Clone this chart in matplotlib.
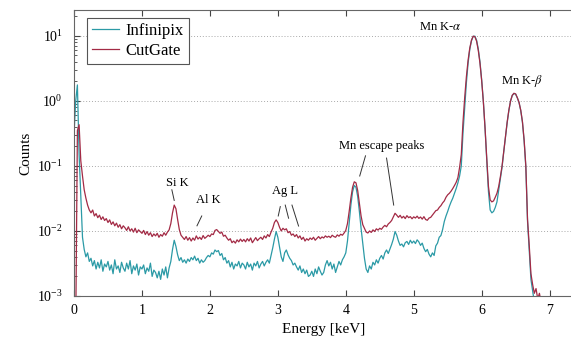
import numpy as np
import matplotlib
matplotlib.use("Agg")
from matplotlib import pyplot as plt
from matplotlib.ticker import LogLocator, NullFormatter

plt.rcParams['font.family'] = ['Liberation Serif', 'DejaVu Serif']
plt.rcParams['mathtext.fontset'] = 'stix'

# spectra, in units of 1e-3 counts, one value per 0.025 keV channel
channel_width = 0.025

infinipix_milli = [
    300, 1000, 1760, 150, 35, 8.0, 5.2, 4.0, 4.6, 3.4,
    3.8, 2.9, 3.5, 2.6, 3.3, 2.7, 3.6, 2.4, 3.1, 2.8,
    3.4, 2.5, 3.0, 2.2, 3.6, 2.6, 2.9, 2.3, 3.3, 2.7,
    2.4, 3.2, 2.6, 3.5, 2.2, 2.9, 2.5, 3.1, 2.1, 2.8,
    2.6, 3.0, 2.2, 2.7, 2.4, 3.2, 2.0, 2.5, 2.3, 1.9,
    2.4, 1.8, 2.6, 2.1, 2.8, 1.9, 2.7, 3.4, 5.2, 7.2,
    5.8, 4.3, 3.5, 3.9, 3.3, 3.6, 3.2, 3.7, 3.4, 3.9,
    3.6, 4.1, 3.5, 3.8, 3.2, 3.6, 3.3, 3.5, 3.9, 4.2,
    4.0, 4.6, 4.4, 5.1, 4.8, 5.0, 4.2, 4.5, 3.6, 3.9,
    3.2, 3.5, 2.8, 3.3, 2.6, 3.1, 2.9, 3.4, 2.7, 3.2,
    3.0, 2.6, 3.3, 2.8, 3.1, 2.5, 3.2, 2.9, 3.4, 2.7,
    3.1, 3.4, 2.9, 3.3, 3.6, 3.2, 4.2, 5.5, 7.5, 9.8,
    8.0, 5.6, 4.0, 3.4, 4.6, 5.1, 4.3, 3.8, 3.5, 3.0,
    3.2, 2.8, 2.5, 2.9, 2.3, 2.6, 2.2, 2.5, 2.0, 2.1,
    2.4, 2.0, 2.6, 2.2, 2.8, 2.4, 2.1, 2.3, 3.0, 3.5,
    2.9, 3.3, 2.6, 3.1, 2.3, 2.8, 3.4, 3.0, 3.6, 4.0,
    4.6, 7.0, 13, 25, 40, 50, 47, 34, 20, 11,
    6.5, 3.8, 2.6, 2.3, 2.9, 2.6, 3.3, 3.0, 3.6, 3.2,
    3.8, 4.2, 3.7, 4.6, 5.1, 4.5, 5.3, 6.2, 7.5, 9.8,
    8.6, 7.0, 6.0, 6.3, 5.7, 6.6, 6.9, 6.2, 7.2, 6.5,
    7.0, 6.4, 7.3, 6.8, 6.0, 6.5, 5.4, 4.8, 5.2, 4.4,
    4.0, 4.6, 4.2, 5.9, 6.5, 8.0, 8.5, 10.5, 14, 17,
    20, 24, 28, 32, 38, 45, 55, 70, 100, 320,
    800, 1900, 3800, 6200, 8400, 9800, 9900, 8600, 6300, 4000,
    2100, 980, 370, 120, 40, 21, 19, 20, 23, 28,
    42, 62, 95, 165, 275, 460, 710, 990, 1210, 1300,
    1270, 1110, 940, 710, 470, 240, 95, 14, 5.0, 1.8,
    1.2, 0.8, 0.5, 0.4, 0.3, 0.3, 0.3, 0.3, 0.3, 0.3,
    0.3,
]

cutgate_milli = [
    0.2, 0.3, 350, 430, 120, 70, 43, 32, 25, 21,
    19, 21, 17, 18.5, 16, 17.5, 15, 16.5, 14.5, 15.5,
    13.5, 14.8, 12.6, 13.8, 12.0, 13.2, 11.4, 12.5, 10.8, 12.0,
    11.2, 10.2, 11.6, 10.0, 10.8, 9.6, 11.0, 9.4, 10.4, 9.8,
    9.2, 10.2, 8.8, 9.8, 8.6, 9.4, 8.2, 9.0, 8.4, 9.2,
    8.0, 8.8, 8.3, 9.4, 8.6, 9.6, 10.4, 13, 19, 25,
    22, 15, 10.5, 8.6, 8.0, 7.4, 8.2, 7.2, 7.9, 7.0,
    7.8, 7.2, 8.4, 7.5, 8.0, 7.4, 8.5, 7.7, 8.1, 8.6,
    8.2, 9.0, 8.8, 10.2, 10.5, 9.8, 9.2, 9.6, 8.3, 8.6,
    7.8, 7.2, 7.6, 6.6, 7.0, 6.5, 7.3, 6.8, 7.5, 6.9,
    7.4, 6.8, 7.6, 7.0, 7.8, 6.6, 7.2, 7.9, 7.1, 7.6,
    8.0, 7.4, 8.4, 7.8, 8.8, 8.2, 9.6, 11.0, 13.5, 14.8,
    13.5, 11.4, 10.0, 11.0, 10.4, 10.8, 9.4, 9.8, 8.6, 9.0,
    8.2, 8.8, 7.8, 8.4, 7.4, 8.0, 7.0, 7.6, 7.2, 7.8,
    7.4, 8.0, 7.2, 7.7, 8.2, 7.6, 8.1, 7.8, 8.4, 8.0,
    8.3, 7.9, 8.6, 8.2, 8.0, 8.7, 8.3, 8.9, 8.6, 9.3,
    10.2, 13, 20, 32, 47, 57, 55, 42, 27, 17,
    12.5, 11, 9.6, 9.3, 10.0, 9.5, 10.4, 9.8, 10.8, 10.3,
    11.0, 10.6, 11.5, 12.2, 11.6, 12.8, 13.5, 14.5, 16.5, 18.7,
    17.5, 16.2, 17.4, 15.8, 16.8, 15.5, 17.2, 16.0, 16.6, 15.4,
    16.5, 15.8, 16.9, 15.6, 16.4, 15.2, 16.6, 15.0, 14.6, 15.8,
    16.2, 17.5, 19, 20.5, 21, 23, 24.5, 27, 29, 33,
    36, 38, 41, 45, 50, 56, 66, 95, 150, 470,
    1120, 2350, 4200, 6500, 8600, 9900, 9700, 8300, 6000, 3800,
    2050, 960, 380, 130, 48, 30, 28, 29, 33, 38,
    48, 68, 100, 170, 280, 470, 720, 1000, 1220, 1310,
    1280, 1120, 950, 720, 480, 250, 100, 15, 6.0, 2.2,
    1.5, 1.1, 1.3, 0.9, 1.1, 0.8, 0.6, 0.4, 0.3, 0.3,
    0.3,
]

# (text, text position, list of pointer segments)
annotations = [
    ("Si K", (1.52, 0.055), [((1.44, 0.043), (1.475, 0.0295))]),
    ("Al K", (1.98, 0.0295), [((1.88, 0.017), (1.81, 0.012))]),
    ("Ag L", (3.11, 0.041), [((3.036, 0.0237), (3.006, 0.017)),
                             ((3.109, 0.025), (3.158, 0.0157)),
                             ((3.208, 0.025), (3.305, 0.0119))]),
    ("Mn escape peaks", (4.53, 0.206), [((4.29, 0.143), (4.205, 0.070)),
                                        ((4.60, 0.132), (4.705, 0.025))]),
    ("Mn K-$\\alpha$", (5.39, 13.9), []),
    ("Mn K-$\\beta$", (6.60, 2.05), []),
]

teal = "#2b9aa6"
crimson = "#a32a45"

infinipix = np.array(infinipix_milli) * 1e-3
cutgate = np.array(cutgate_milli) * 1e-3
energy = np.arange(len(infinipix)) * channel_width

fig = plt.figure(figsize=(5.71, 3.38), dpi=100)
ax = fig.add_axes([0.1296, 0.1243, 0.8746, 0.8461])

ax.plot(energy, infinipix, color=teal, lw=0.9, label="Infinipix")
ax.plot(energy, cutgate, color=crimson, lw=0.9, label="CutGate")

ax.set_yscale("log")
ax.set_xlim(0, 7.35)
ax.set_ylim(1e-3, 25)
ax.set_xticks(range(8))
ax.yaxis.set_major_locator(LogLocator(base=10, numticks=10))
ax.yaxis.set_minor_locator(LogLocator(base=10, subs=np.arange(2, 10), numticks=20))
ax.yaxis.set_minor_formatter(NullFormatter())
ax.tick_params(which="both", direction="in", top=True, right=False, colors="#444444",
               labelcolor="black", labelsize=10)
ax.tick_params(which="major", length=4)
ax.tick_params(which="minor", length=2)
ax.tick_params(axis="x", which="major", pad=6)
ax.tick_params(axis="y", which="major", pad=8)
for s in ax.spines.values():
    s.set_color("#666666")
ax.grid(axis="y", which="major", linestyle=(0, (1, 2)), color="#aaaaaa", lw=0.7)

ax.set_xlabel("Energy [keV]", fontsize=11, labelpad=4)
ax.set_ylabel("Counts", fontsize=11, labelpad=3)

for text, pos, segs in annotations:
    ax.text(pos[0], pos[1], text, ha="center", va="center", fontsize=9)
    for p0, p1 in segs:
        ax.plot([p0[0], p1[0]], [p0[1], p1[1]], color="#333333", lw=0.7)

leg = ax.legend(loc="upper left", bbox_to_anchor=(0.02, 0.985), fontsize=12, fancybox=False,
                framealpha=1, edgecolor="#555555", handlelength=1.6, borderpad=0.3,
                labelspacing=0.25, handletextpad=0.4, borderaxespad=0.2)
leg.get_frame().set_linewidth(0.8)

fig.savefig("out.png", dpi=100)
